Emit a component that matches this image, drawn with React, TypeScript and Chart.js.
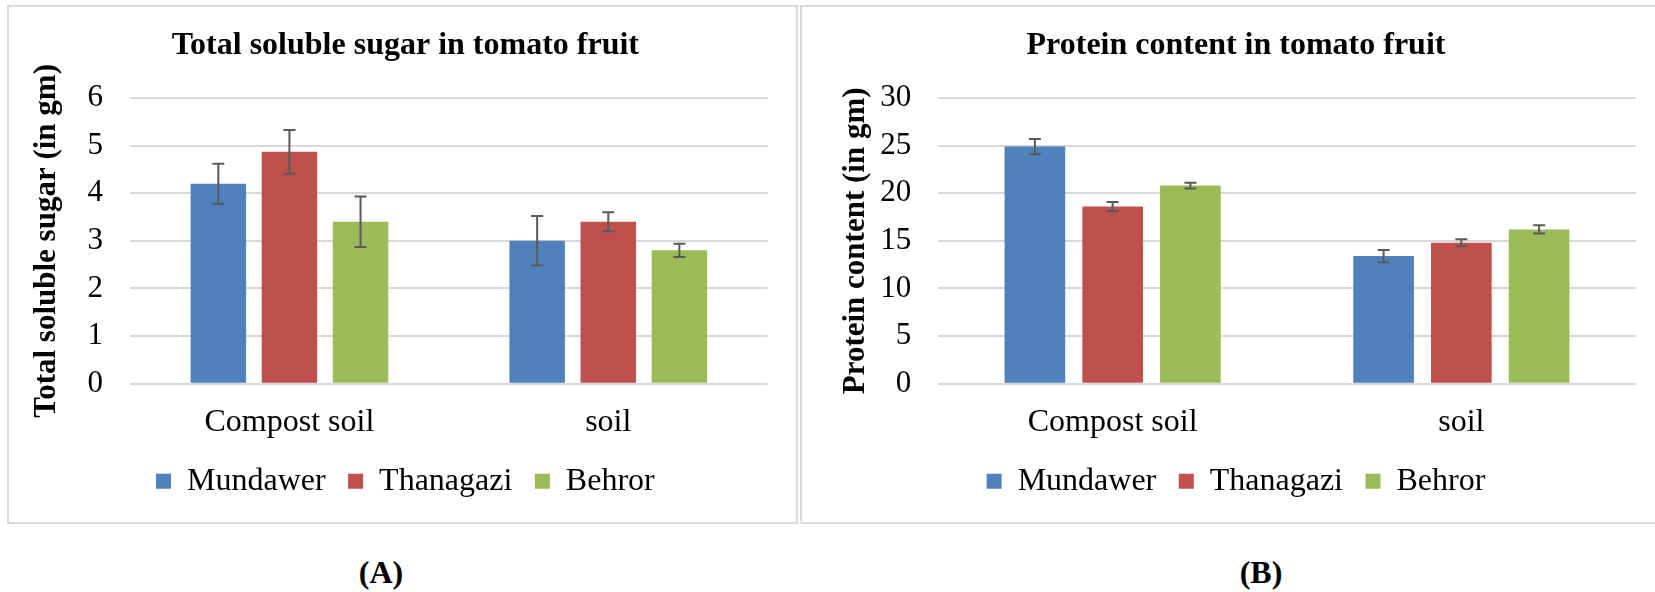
import React, { useEffect, useRef } from 'react';
import { Chart, registerables } from 'chart.js';

Chart.register(...registerables);

// ---------- data ----------
const categories = ['Compost soil', 'soil'];
const seriesNames = ['Mundawer', 'Thanagazi', 'Behror'];
const seriesColors = ['#4F81BD', '#C0504D', '#9BBB59'];

const sugarMundawer = [4.2, 3.0];
const sugarThanagazi = [4.87, 3.4];
const sugarBehror = [3.4, 2.8];
const sugarErrMundawer = [0.42, 0.52];
const sugarErrThanagazi = [0.46, 0.2];
const sugarErrBehror = [0.53, 0.14];

const proteinMundawer = [24.9, 13.4];
const proteinThanagazi = [18.6, 14.8];
const proteinBehror = [20.8, 16.2];
const proteinErrMundawer = [0.8, 0.65];
const proteinErrThanagazi = [0.48, 0.38];
const proteinErrBehror = [0.3, 0.43];

const sugarTicksMax = 6;
const sugarTickStep = 1;
const proteinTicksMax = 30;
const proteinTickStep = 5;

const FONT = '"Liberation Serif", "Times New Roman", serif';

Chart.defaults.font.family = FONT;
Chart.defaults.color = '#000';

const errorBarPlugin = {
  id: 'errorBars',
  afterDatasetsDraw(chart: any, _args: any, opts: any) {
    const errs = opts && opts.errors;
    if (!errs) return;
    const yScale = chart.scales.y;
    const ctx = chart.ctx;
    ctx.save();
    ctx.strokeStyle = opts.color || '#595959';
    ctx.lineWidth = opts.lineWidth || 2;
    const hw = (opts.capWidth || 12) / 2;
    chart.data.datasets.forEach((ds: any, di: number) => {
      const meta = chart.getDatasetMeta(di);
      meta.data.forEach((bar: any, i: number) => {
        const v = ds.data[i];
        const e = errs[di][i];
        const x = bar.x;
        const yt = yScale.getPixelForValue(v + e);
        const yb = yScale.getPixelForValue(v - e);
        ctx.beginPath();
        ctx.moveTo(x, yt);
        ctx.lineTo(x, yb);
        ctx.moveTo(x - hw, yt);
        ctx.lineTo(x + hw, yt);
        ctx.moveTo(x - hw, yb);
        ctx.lineTo(x + hw, yb);
        ctx.stroke();
      });
    });
    ctx.restore();
  },
};

type PanelProps = {
  left: number;
  top: number;
  width: number;
  height: number;
  title: string;
  yTitle: string;
  values: number[][];
  errors: number[][];
  yMax: number;
  yStep: number;
  padLeft: number;
  padRight: number;
  yWidth: number;
  yTitlePad: number;
};

function ChartPanel(p: PanelProps) {
  const ref = useRef<HTMLCanvasElement | null>(null);
  useEffect(() => {
    if (!ref.current) return;
    const chart = new Chart(ref.current, {
      type: 'bar',
      data: {
        labels: categories,
        datasets: seriesNames.map((name, i) => ({
          label: name,
          data: p.values[i],
          backgroundColor: seriesColors[i],
          borderWidth: 0,
          categoryPercentage: 0.669,
          barPercentage: 0.78,
        })),
      },
      options: {
        responsive: false,
        animation: false,
        devicePixelRatio: 1,
        font: { family: FONT },
        layout: { padding: { left: p.padLeft, right: p.padRight, top: 0, bottom: 15.7 } },
        plugins: {
          title: {
            display: true,
            text: p.title,
            color: '#000',
            font: { family: FONT, size: 32, weight: 'bold' },
            padding: { top: 20.4, bottom: 33.2 },
          },
          legend: {
            position: 'bottom',
            labels: {
              color: '#000',
              font: { family: FONT, size: 32 },
              boxWidth: 15,
              boxHeight: 15,
              padding: 22.5,
            },
          },
          tooltip: { enabled: false },
          errorBars: { errors: p.errors, color: '#595959', lineWidth: 2, capWidth: 12 },
        } as any,
        scales: {
          x: {
            grid: { display: false, drawTicks: false },
            border: { display: false },
            ticks: {
              color: '#000',
              font: { family: FONT, size: 32 },
              padding: 20,
            },
            afterFit: (s: any) => {
              s.height = 59.1;
            },
          },
          y: {
            min: 0,
            max: p.yMax,
            ticks: {
              stepSize: p.yStep,
              color: '#000',
              font: { family: FONT, size: 31 },
              padding: 27,
            },
            grid: { color: '#D9D9D9', lineWidth: 2, drawTicks: false },
            border: { display: false },
            title: {
              display: true,
              text: p.yTitle,
              color: '#000',
              font: { family: FONT, size: 31, weight: 'bold' },
              padding: { top: p.yTitlePad, bottom: 0 },
            },
            afterFit: (s: any) => {
              s.width = p.yWidth;
            },
          },
        },
      } as any,
      plugins: [errorBarPlugin],
    });
    return () => chart.destroy();
  }, []);
  return (
    <canvas
      ref={ref}
      width={p.width}
      height={p.height}
      style={{ position: 'absolute', left: p.left, top: p.top, width: p.width, height: p.height }}
    />
  );
}

export default function App() {
  const border = (left: number, width: number) => (
    <div
      style={{
        position: 'absolute',
        left,
        top: 5,
        width,
        height: 519,
        border: '2px solid #D9D9D9',
        boxSizing: 'border-box',
      }}
    />
  );
  const caption = (text: string, cx: number) => (
    <div
      style={{
        position: 'absolute',
        left: cx - 60,
        top: 554,
        width: 120,
        textAlign: 'center',
        fontFamily: FONT,
        fontWeight: 'bold',
        fontSize: 32,
        lineHeight: '36px',
        color: '#000',
      }}
    >
      {text}
    </div>
  );
  return (
    <div
      style={{
        position: 'fixed',
        left: 0,
        top: 0,
        width: 1655,
        height: 592,
        overflow: 'hidden',
        background: '#fff',
      }}
    >
      {border(7, 791)}
      {border(800, 868)}
      <ChartPanel
        left={8}
        top={6}
        width={789}
        height={517}
        title="Total soluble sugar in tomato fruit"
        yTitle="Total soluble sugar (in gm)"
        values={[sugarMundawer, sugarThanagazi, sugarBehror]}
        errors={[sugarErrMundawer, sugarErrThanagazi, sugarErrBehror]}
        yMax={sugarTicksMax}
        yStep={sugarTickStep}
        padLeft={35}
        padRight={29.3}
        yWidth={87}
        yTitlePad={-14.6}
      />
      <ChartPanel
        left={801}
        top={6}
        width={865}
        height={517}
        title="Protein content in tomato fruit"
        yTitle="Protein content (in gm)"
        values={[proteinMundawer, proteinThanagazi, proteinBehror]}
        errors={[proteinErrMundawer, proteinErrThanagazi, proteinErrBehror]}
        yMax={proteinTicksMax}
        yStep={proteinTickStep}
        padLeft={35.3}
        padRight={30.3}
        yWidth={102}
        yTitlePad={1.1}
      />
      {caption('(A)', 381)}
      {caption('(B)', 1261)}
    </div>
  );
}
